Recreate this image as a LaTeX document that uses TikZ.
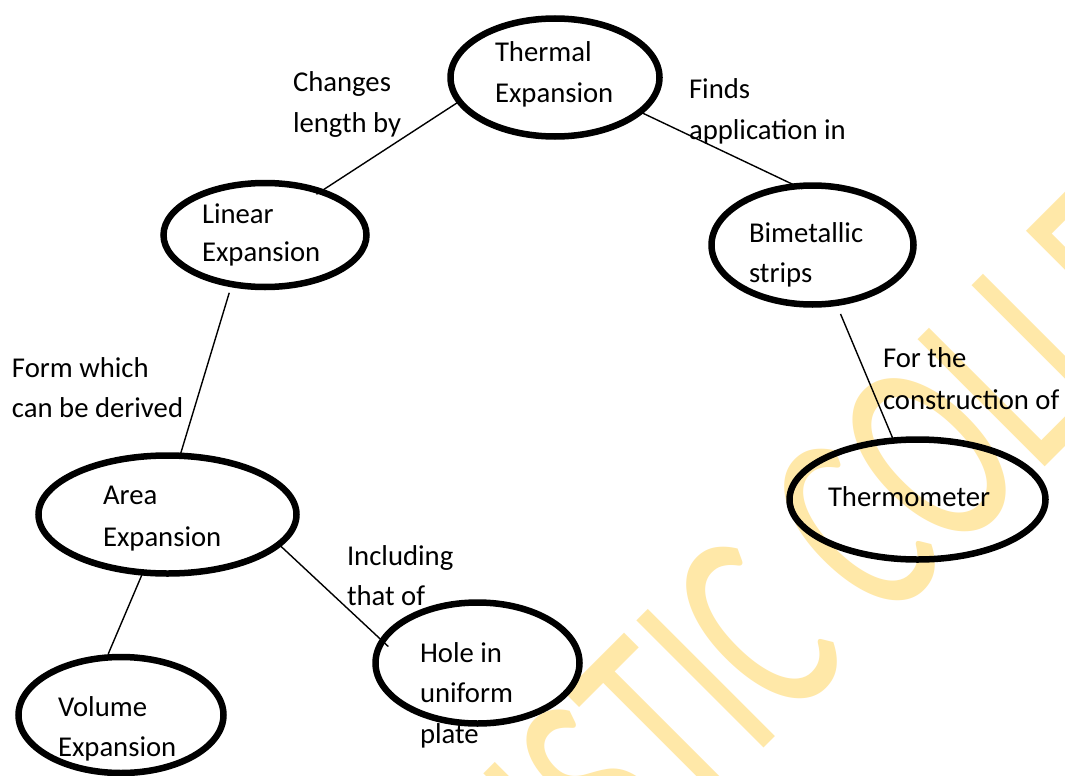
\documentclass[tikz,border=0pt]{standalone}
\usepackage{fontspec}
\setmainfont{Carlito}
\newfontfamily\wmfont{Carlito}
\usetikzlibrary{shapes.geometric}
\definecolor{wmyellow}{RGB}{255,232,168}
\begin{document}
\begin{tikzpicture}[x=1pt,y=-1pt,
  bubble/.style={ellipse, draw=black, line width=6.5pt, inner sep=0pt, outer sep=0pt},
  txt/.style={anchor=base west, inner sep=0pt, outer sep=0pt, font=\fontsize{28.7}{40}\selectfont},
  link/.style={line width=1.4pt}]
\fill[white] (0,0) rectangle (1065,776);
\useasboundingbox (0,0) rectangle (1065,776);

% diagonal watermark behind the map
\begin{scope}
  \clip (0,0) rectangle (1065,776);
  \node[rotate=45, anchor=base west, inner sep=0pt, text=wmyellow,
        font=\wmfont\fontsize{182}{182}\selectfont] (wm) at (394,1118)
        {\scalebox{1}[1.54]{ARTISTIC COLLEGE}};
\end{scope}

% concept bubbles
\node[bubble, minimum width=209pt, minimum height=118pt] (thermal) at (555,77.5) {};
\node[bubble, minimum width=203pt, minimum height=104pt] (linear) at (265,235) {};
\node[bubble, minimum width=202pt, minimum height=119pt] (bimetal) at (812.5,245) {};
\node[bubble, minimum width=256pt, minimum height=120pt] (thermo) at (917.5,499.5) {};
\node[bubble, minimum width=258pt, minimum height=118pt] (area) at (167.5,514.5) {};
\node[bubble, minimum width=205pt, minimum height=116pt] (volume) at (121,715) {};
\node[bubble, minimum width=204pt, minimum height=121pt] (hole) at (477.5,663) {};

% connectors
\draw[link, shorten >=-5pt] (thermal.194.6) -- (linear.38);
\draw[link, shorten >=-6pt] (thermal.-22) -- (bimetal.105);
\draw[link, shorten <=12pt] (bimetal.-68) -- (thermo.112);
\draw[link, shorten <=9pt] (linear.236) -- (area.78);
\draw[link, shorten >=4pt] (area.247) -- (volume.104);
\draw[link, shorten >=-8pt] (area.-15) -- (hole.167);

% bubble texts
\node[txt] (thermal-a) at (495,62) {Thermal};
\node[txt] (thermal-b) at (495,102) {Expansion};
\node[txt] (linear-a) at (202,223) {Linear};
\node[txt] (linear-b) at (202,261) {Expansion};
\node[txt] (bimetal-a) at (749,242) {Bimetallic};
\node[txt] (bimetal-b) at (749,282) {strips};
\node[txt] (thermo-a) at (828,506) {Thermometer};
\node[txt] (area-a) at (103,504) {Area};
\node[txt] (area-b) at (103,546) {Expansion};
\node[txt] (volume-a) at (58,716) {Volume};
\node[txt] (volume-b) at (58,756) {Expansion};
\node[txt] (hole-a) at (420,662) {Hole in};
\node[txt] (hole-b) at (420,702) {uniform};
\node[txt] (hole-c) at (420,743) {plate};

% link labels
\node[txt] (lab1a) at (293,92) {Changes};
\node[txt] (lab1b) at (293,132) {length by};
\node[txt] (lab2a) at (689,99) {Finds};
\node[txt] (lab2b) at (689,139) {application in};
\node[txt] (lab3a) at (883,367) {For the};
\node[txt] (lab3b) at (883,409) {construction of};
\node[txt] (lab4a) at (12,377) {Form which};
\node[txt] (lab4b) at (12,417) {can be derived};
\node[txt] (lab5a) at (347,565) {Including};
\node[txt] (lab5b) at (347,605) {that of};
\end{tikzpicture}
\end{document}
